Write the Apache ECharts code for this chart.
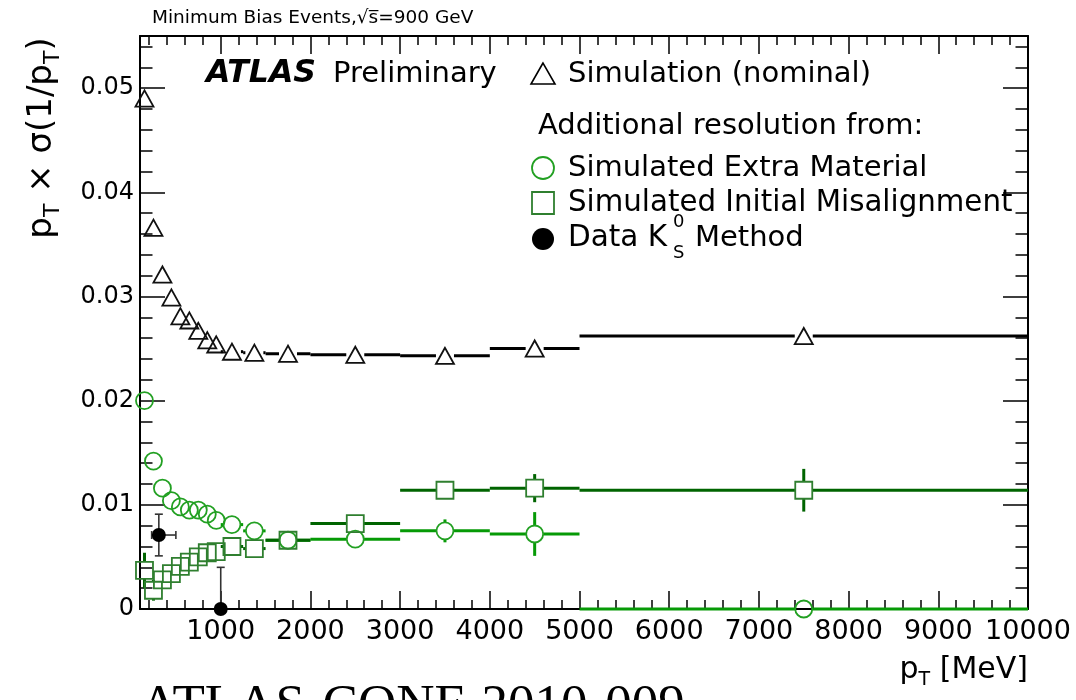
<!DOCTYPE html>
<html>
<head>
<meta charset="utf-8">
<script src="https://cdn.jsdelivr.net/npm/echarts@6/dist/echarts.min.js"></script>
<style>
html, body { margin: 0; padding: 0; background: #fff; }
#chart { width: 1076px; height: 700px; }
</style>
</head>
<body>
<div id="chart"></div>
<script>
// pT binning (MeV)
const binLow    = [100, 200, 300, 400, 500, 600, 700, 800, 900, 1000, 1250, 1500, 2000, 3000, 4000, 5000];
const binHigh   = [200, 300, 400, 500, 600, 700, 800, 900, 1000, 1250, 1500, 2000, 3000, 4000, 5000, 10000];
const binCentre = [150, 250, 350, 450, 550, 650, 750, 850, 950, 1125, 1375, 1750, 2500, 3500, 4500, 7500];

// Simulation (nominal)
const nominal    = [0.0490, 0.0366, 0.0321, 0.0299, 0.0281, 0.0277, 0.0267, 0.0258, 0.0254, 0.0247, 0.0246, 0.0245, 0.0244, 0.0243, 0.0250, 0.0262];
const nominalErr = [0, 0, 0, 0, 0, 0, 0, 0, 0, 0, 0, 0, 0, 0, 0, 0];

// Additional resolution: simulated extra material
const extraMaterial    = [0.0200, 0.0142, 0.0116, 0.0104, 0.0098, 0.0095, 0.0095, 0.0091, 0.0085, 0.0081, 0.0075, 0.0066, 0.0067, 0.0075, 0.0072, 0.0000];
const extraMaterialErr = [0.0003, 0.0003, 0.0003, 0.0003, 0.0003, 0.0003, 0.0003, 0.0003, 0.0003, 0.0004, 0.0004, 0.0004, 0.0004, 0.0011, 0.0021, 0.0000];

// Additional resolution: simulated initial misalignment
const misalignment    = [0.0037, 0.0018, 0.0028, 0.0034, 0.0041, 0.0045, 0.0050, 0.0054, 0.0055, 0.0060, 0.0058, 0.0066, 0.0082, 0.0114, 0.0116, 0.0114];
const misalignmentErr = [0.0017, 0.0010, 0.0004, 0.0004, 0.0004, 0.0004, 0.0004, 0.0004, 0.0004, 0.0004, 0.0004, 0.0004, 0.0006, 0.0007, 0.00135, 0.00205];

// Data, K0s method
const kshortPt      = [310, 1000];
const kshortPtLow   = [230, 1000];
const kshortPtHigh  = [500, 1000];
const kshortRes     = [0.0071, 0.0000];
const kshortErrLow  = [0.0020, 0.0000];
const kshortErrHigh = [0.0020, 0.0040];

// axis ticks
const xMajorTicks = [1000, 2000, 3000, 4000, 5000, 6000, 7000, 8000, 9000, 10000];
const yMajorTicks = [0, 0.01, 0.02, 0.03, 0.04, 0.05];
const xMinorTicks = [];
for (let v = 200; v < 10000; v += 200) if (v % 1000 !== 0) xMinorTicks.push(v);
const yMinorTicks = [];
for (let k = 1; k <= 27; k++) if (k % 5 !== 0) yMinorTicks.push(+(k * 0.002).toFixed(3));

const FONT = 'DejaVu Sans';

function binnedPoints(values, errors) {
  return values.map((v, i) => [binCentre[i], v, binLow[i], binHigh[i], errors[i]]);
}

function markerShape(kind, c, size, color, lw) {
  const r = size / 2;
  const style = { fill: 'none', stroke: color, lineWidth: lw };
  if (kind === 'triangle') {
    const h = size * 0.9;
    return { type: 'polygon', shape: { points: [[c[0], c[1] - h / 2], [c[0] - r, c[1] + h / 2], [c[0] + r, c[1] + h / 2]] }, style };
  }
  if (kind === 'circle') {
    return { type: 'circle', shape: { cx: c[0], cy: c[1], r: r }, style };
  }
  return { type: 'rect', shape: { x: c[0] - r, y: c[1] - r, width: size, height: size }, style };
}

// histogram-style point: bin-width bar, vertical error bar, open marker
function binnedRenderer(kind, markerColor, lineColor, size) {
  return function (params, api) {
    const x = api.value(0), y = api.value(1), lo = api.value(2), hi = api.value(3), err = api.value(4);
    const c = api.coord([x, y]);
    const l = api.coord([lo, y]);
    const h = api.coord([hi, y]);
    const t = api.coord([x, y + err]);
    const b = api.coord([x, Math.max(0, y - err)]);
    const r = size / 2;
    const ls = { stroke: lineColor, lineWidth: 3 };
    const kids = [];
    if (c[0] - r > l[0]) kids.push({ type: 'line', shape: { x1: l[0], y1: c[1], x2: c[0] - r, y2: c[1] }, style: ls });
    if (h[0] > c[0] + r) kids.push({ type: 'line', shape: { x1: c[0] + r, y1: c[1], x2: h[0], y2: c[1] }, style: ls });
    if (t[1] < c[1] - r) kids.push({ type: 'line', shape: { x1: c[0], y1: t[1], x2: c[0], y2: c[1] - r }, style: ls });
    if (b[1] > c[1] + r) kids.push({ type: 'line', shape: { x1: c[0], y1: c[1] + r, x2: c[0], y2: b[1] }, style: ls });
    kids.push(markerShape(kind, c, size, markerColor, 1.8));
    return { type: 'group', children: kids };
  };
}

function kshortRenderer(params, api) {
  const x = api.value(0), y = api.value(1);
  const c = api.coord([x, y]);
  const l = api.coord([api.value(2), y]);
  const h = api.coord([api.value(3), y]);
  const b = api.coord([x, y - api.value(4)]);
  const t = api.coord([x, y + api.value(5)]);
  const ls = { stroke: '#333', lineWidth: 1.6 };
  const cap = 4;
  const kids = [];
  if (t[1] < c[1] - 1) {
    kids.push({ type: 'line', shape: { x1: c[0], y1: t[1], x2: c[0], y2: c[1] }, style: ls });
    kids.push({ type: 'line', shape: { x1: c[0] - cap, y1: t[1], x2: c[0] + cap, y2: t[1] }, style: ls });
  }
  if (b[1] > c[1] + 1) {
    kids.push({ type: 'line', shape: { x1: c[0], y1: c[1], x2: c[0], y2: b[1] }, style: ls });
    kids.push({ type: 'line', shape: { x1: c[0] - cap, y1: b[1], x2: c[0] + cap, y2: b[1] }, style: ls });
  }
  if (h[0] > c[0] + 1) {
    kids.push({ type: 'line', shape: { x1: c[0], y1: c[1], x2: h[0], y2: c[1] }, style: ls });
    kids.push({ type: 'line', shape: { x1: h[0], y1: c[1] - cap, x2: h[0], y2: c[1] + cap }, style: ls });
  }
  if (l[0] < c[0] - 1) {
    kids.push({ type: 'line', shape: { x1: l[0], y1: c[1], x2: c[0], y2: c[1] }, style: ls });
    kids.push({ type: 'line', shape: { x1: l[0], y1: c[1] - cap, x2: l[0], y2: c[1] + cap }, style: ls });
  }
  kids.push({ type: 'circle', shape: { cx: c[0], cy: c[1], r: 7 }, style: { fill: '#000' } });
  return { type: 'group', children: kids };
}

const kshortData = kshortPt.map((p, i) => [p, kshortRes[i], kshortPtLow[i], kshortPtHigh[i], kshortErrLow[i], kshortErrHigh[i]]);

function xAxisDef(position, ticks, len, withLine, withLabels) {
  return {
    type: 'value', min: 100, max: 10000, position: position,
    splitLine: { show: false },
    axisLine: { show: withLine, onZero: false, lineStyle: { color: '#000', width: 2 } },
    axisTick: { show: true, inside: true, length: len, customValues: ticks, lineStyle: { color: '#000', width: 1.5 } },
    axisLabel: withLabels ? {
      show: true, customValues: xMajorTicks, margin: 9, color: '#000', fontFamily: FONT, fontSize: 27,
      formatter: v => String(Math.round(v))
    } : { show: false }
  };
}
function yAxisDef(position, ticks, len, withLine, withLabels) {
  return {
    type: 'value', min: 0, max: 0.055, position: position,
    splitLine: { show: false },
    axisLine: { show: withLine, onZero: false, lineStyle: { color: '#000', width: 2 } },
    axisTick: { show: true, inside: true, length: len, customValues: ticks, lineStyle: { color: '#000', width: 1.5 } },
    axisLabel: withLabels ? {
      show: true, customValues: yMajorTicks, margin: 6, color: '#000', fontFamily: FONT, fontSize: 24,
      formatter: v => (v === 0 ? '0' : v.toFixed(2))
    } : { show: false }
  };
}

const legendTextStyle = (txt, x, y, size) => ({
  type: 'text', x: x, y: y,
  style: { text: txt, fill: '#000', fontFamily: FONT, fontSize: size, align: 'left', textAlign: 'left', verticalAlign: 'middle', textVerticalAlign: 'middle' }
});

const chart = echarts.init(document.getElementById('chart'), null, { renderer: 'canvas' });
chart.setOption({
  animation: false,
  backgroundColor: '#fff',
  grid: { left: 140, right: 48, top: 36, bottom: 91, containLabel: false },
  xAxis: [
    xAxisDef('bottom', xMajorTicks, 18, true, true),
    xAxisDef('bottom', xMinorTicks, 9, false, false),
    xAxisDef('top', xMajorTicks, 18, true, false),
    xAxisDef('top', xMinorTicks, 9, false, false)
  ],
  yAxis: [
    yAxisDef('left', yMajorTicks, 25, true, true),
    yAxisDef('left', yMinorTicks, 12.5, false, false),
    yAxisDef('right', yMajorTicks, 25, true, false),
    yAxisDef('right', yMinorTicks, 12.5, false, false)
  ],
  series: [
    {
      name: 'Simulation (nominal)', type: 'custom', clip: false,
      renderItem: binnedRenderer('triangle', '#111', '#000', 18),
      data: binnedPoints(nominal, nominalErr), z: 3
    },
    {
      name: 'Simulated Extra Material', type: 'custom', clip: false,
      renderItem: binnedRenderer('circle', '#22a022', '#069a06', 17),
      data: binnedPoints(extraMaterial, extraMaterialErr), z: 4
    },
    {
      name: 'Simulated Initial Misalignment', type: 'custom', clip: false,
      renderItem: binnedRenderer('square', '#2f7f2f', '#006400', 17),
      data: binnedPoints(misalignment, misalignmentErr), z: 5
    },
    {
      name: 'Data K0S Method', type: 'custom', clip: false,
      renderItem: kshortRenderer,
      data: kshortData, z: 6
    }
  ],
  graphic: [
    // header
    { type: 'text', x: 152, y: 18, style: { text: 'Minimum Bias Events,√s\u0305=900 GeV', fill: '#000', fontFamily: FONT, fontSize: 18.5, align: 'left', textAlign: 'left', verticalAlign: 'middle', textVerticalAlign: 'middle' } },
    // ATLAS label
    { type: 'text', x: 206, y: 74, style: { text: 'ATLAS', fill: '#000', fontFamily: FONT, fontSize: 31.5, fontWeight: 'bold', fontStyle: 'italic', align: 'left', textAlign: 'left', verticalAlign: 'middle', textVerticalAlign: 'middle' } },
    legendTextStyle('Preliminary', 333, 74, 29),
    // legend
    { type: 'polygon', shape: { points: [[543, 63], [531, 84], [555, 84]] }, style: { fill: 'none', stroke: '#000', lineWidth: 1.6 } },
    legendTextStyle('Simulation (nominal)', 568, 74, 29),
    legendTextStyle('Additional resolution from:', 538, 126, 29),
    { type: 'circle', shape: { cx: 543, cy: 168, r: 11 }, style: { fill: 'none', stroke: '#22a022', lineWidth: 1.8 } },
    legendTextStyle('Simulated Extra Material', 568, 168, 29),
    { type: 'rect', shape: { x: 532, y: 192, width: 22, height: 22 }, style: { fill: 'none', stroke: '#2f7f2f', lineWidth: 1.8 } },
    legendTextStyle('Simulated Initial Misalignment', 568, 203, 29.3),
    { type: 'circle', shape: { cx: 543, cy: 239, r: 11 }, style: { fill: '#000' } },
    legendTextStyle('Data K', 568, 238, 29.5),
    legendTextStyle('0', 673, 222, 18),
    legendTextStyle('S', 673, 253, 18),
    legendTextStyle('Method', 695, 238, 29),
    // y axis title
    {
      type: 'text', x: 42, y: 138, rotation: Math.PI / 2,
      style: {
        text: '{m|p}{t|T}{m| × σ(1/p}{t|T}{m|)}',
        align: 'center', textAlign: 'center', verticalAlign: 'middle', textVerticalAlign: 'middle',
        rich: {
          m: { fontFamily: FONT, fontSize: 34, lineHeight: 48, fill: '#000' },
          t: { fontFamily: FONT, fontSize: 22, lineHeight: 48, padding: [22, 0, 0, 0], fill: '#000' }
        }
      }
    },
    // x axis title
    {
      type: 'text', x: 1028, y: 670,
      style: {
        text: '{m|p}{t|T}{m| [MeV]}',
        align: 'right', textAlign: 'right', verticalAlign: 'middle', textVerticalAlign: 'middle',
        rich: {
          m: { fontFamily: FONT, fontSize: 30, lineHeight: 44, fill: '#000' },
          t: { fontFamily: FONT, fontSize: 19, lineHeight: 44, padding: [20, 0, 0, 0], fill: '#000' }
        }
      }
    },
    // conference note number
    { type: 'text', x: 140, y: 707, style: { text: 'ATLAS-CONF-2010-009', fill: '#000', fontFamily: 'Liberation Serif', fontSize: 53, align: 'left', textAlign: 'left', verticalAlign: 'middle', textVerticalAlign: 'middle' } }
  ]
});
</script>
</body>
</html>
